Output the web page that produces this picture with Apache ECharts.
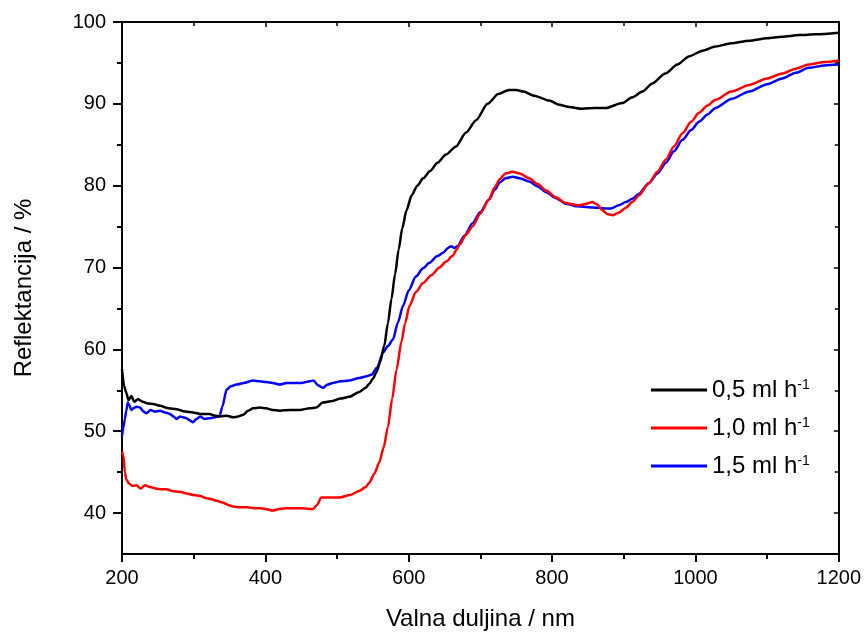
<!DOCTYPE html>
<html>
<head>
<meta charset="utf-8">
<script src="https://cdn.jsdelivr.net/npm/echarts@6/dist/echarts.min.js"></script>
<style>html,body{margin:0;padding:0;background:#fff;}#c{width:864px;height:636px;}</style>
</head>
<body>
<div id="c"></div>
<script>
const seriesNames = ['0,5 ml h', '1,0 ml h', '1,5 ml h'];
const seriesColors = ['#000000', '#ff0000', '#0000ff'];

const wlBlack = [200,203,206,209,213,217,222,229,236,245,253,265,276,288,299,310,322,330,337,346,355,362,369,376,383,392,401,410,420,435,448,462,471,480,494,505,517,531,540,545,550,555,560,566,571,576,581,586,591,597,604,612,620,630,640,652,666,680,694,710,725,740,750,760,775,796,810,824,842,860,875,898,912,926,940,958,975,991,1010,1028,1050,1075,1100,1121,1145,1168,1200];
const valBlack = [57.6,55.5,54.7,53.8,54.3,53.6,53.9,53.6,53.4,53.3,53.1,52.8,52.7,52.4,52.3,52.1,52.1,51.9,51.8,51.9,51.7,51.8,52.0,52.5,52.8,52.9,52.8,52.6,52.5,52.6,52.6,52.8,52.9,53.5,53.7,54.0,54.2,54.8,55.3,55.8,56.4,57.2,58.4,60.5,63.2,66.2,69.2,72.2,74.8,77.0,78.8,80.0,80.9,81.8,82.8,83.8,84.8,86.5,88.0,90.0,91.2,91.7,91.7,91.5,91.0,90.4,89.9,89.6,89.4,89.5,89.5,90.1,90.8,91.5,92.5,93.7,94.8,95.8,96.5,97.0,97.4,97.7,98.0,98.2,98.4,98.5,98.7];

const wlRed = [200,202,204,206,210,215,220,226,232,239,247,255,262,270,281,290,300,309,318,325,332,340,348,355,365,375,385,392,400,410,420,430,440,450,462,467,472,478,490,504,518,531,540,545,552,559,565,571,577,583,590,595,601,610,620,632,643,652,661,667,671,680,689,700,712,720,727,735,745,755,768,780,792,805,819,830,838,848,856,863,870,878,885,893,903,912,921,935,947,959,970,982,994,1005,1017,1028,1050,1075,1100,1121,1140,1158,1180,1200];
const valRed = [47.5,47.0,45.0,44.1,43.6,43.3,43.4,43.0,43.4,43.2,43.0,42.9,42.9,42.7,42.6,42.4,42.2,42.1,41.8,41.7,41.5,41.3,41.0,40.8,40.7,40.7,40.6,40.6,40.5,40.3,40.5,40.6,40.6,40.6,40.5,40.5,41.0,41.9,41.9,41.9,42.2,42.7,43.2,43.7,44.8,46.2,48.0,50.5,54.0,57.5,61.0,63.2,65.3,67.0,68.1,69.1,70.0,70.7,71.4,72.2,72.8,74.0,75.0,76.6,78.3,79.8,80.8,81.5,81.7,81.5,80.9,80.2,79.4,78.6,77.9,77.7,77.6,77.8,78.0,77.7,77.0,76.5,76.4,76.7,77.3,78.0,78.8,80.3,81.7,83.2,84.8,86.4,87.8,88.9,89.8,90.5,91.5,92.3,93.1,93.7,94.3,94.8,95.1,95.3];

const wlBlue = [200,202,204,206,208,210,213,216,220,225,230,234,240,246,253,260,267,272,276,281,285,290,295,299,304,309,315,323,330,336,340,346,352,360,370,383,392,401,410,420,430,439,450,462,467,474,480,487,494,505,517,531,540,548,556,564,571,578,585,592,600,610,620,629,640,648,655,659,664,668,678,689,700,712,720,727,735,745,755,768,780,792,805,819,833,847,865,875,882,893,903,912,921,935,947,959,970,982,994,1005,1017,1028,1050,1075,1100,1121,1140,1158,1180,1200];
const valBlue = [49.4,50.5,51.5,52.5,53.5,53.2,52.6,52.8,53.0,52.9,52.4,52.2,52.6,52.4,52.5,52.3,52.1,51.8,51.5,51.8,51.7,51.6,51.3,51.1,51.5,51.8,51.5,51.6,51.7,51.8,53.0,55.1,55.5,55.7,55.9,56.2,56.1,56.0,55.9,55.7,55.9,55.9,55.9,56.1,56.2,55.6,55.3,55.7,55.9,56.1,56.2,56.5,56.7,56.9,57.8,59.6,60.4,61.2,63.3,65.3,67.2,68.9,69.9,70.6,71.4,71.8,72.4,72.6,72.4,72.6,73.9,75.4,76.8,78.3,79.5,80.4,80.9,81.1,80.9,80.5,79.9,79.2,78.5,77.8,77.5,77.4,77.3,77.2,77.2,77.6,78.0,78.4,79.0,80.3,81.5,82.8,84.2,85.6,86.8,87.8,88.7,89.5,90.6,91.5,92.4,93.1,93.8,94.4,94.7,94.8];

const yMajorTicks = [40, 50, 60, 70, 80, 90, 100];
const yMinorTicks = [45, 55, 65, 75, 85, 95];

function pairs(xs, ys) { return xs.map((x, i) => [x, ys[i]]); }
const allData = [pairs(wlBlack, valBlack), pairs(wlRed, valRed), pairs(wlBlue, valBlue)];

const chart = echarts.init(document.getElementById('c'), null, {renderer: 'canvas'});
const fontFam = 'Liberation Sans, Arial, sans-serif';
const axisLine = {show: true, onZero: false, lineStyle: {color: '#000', width: 2}};

const option = {
  backgroundColor: '#fff',
  animation: false,
  grid: {left: 122, right: 24, top: 22, bottom: 80, containLabel: false},
  legend: {
    orient: 'vertical',
    left: 646,
    top: 373,
    icon: 'rect',
    itemWidth: 56,
    itemHeight: 3,
    itemGap: 14,
    data: seriesNames,
    formatter: n => n + '{sup|-1}',
    textStyle: {
      fontFamily: fontFam, fontSize: 24, color: '#000', lineHeight: 24,
      rich: {sup: {fontFamily: fontFam, fontSize: 14, color: '#000', verticalAlign: 'top', lineHeight: 12}}
    }
  },
  xAxis: [
    {
      type: 'value', min: 200, max: 1200, interval: 200, position: 'bottom',
      axisLine: axisLine,
      axisTick: {show: true, inside: false, length: 8, lineStyle: {width: 2, color: '#000'}},
      minorTick: {show: true, splitNumber: 2, length: 5, lineStyle: {width: 2, color: '#000'}},
      splitLine: {show: false},
      axisLabel: {fontFamily: fontFam, fontSize: 20, color: '#000', margin: 14, formatter: v => String(v)},
      name: 'Valna duljina / nm', nameLocation: 'middle', nameGap: 53,
      nameTextStyle: {fontFamily: fontFam, fontSize: 24, color: '#000'}
    },
    {
      type: 'value', min: 200, max: 1200, interval: 200, position: 'top',
      axisLine: axisLine,
      axisTick: {show: true, inside: true, length: 5, lineStyle: {width: 1.5, color: '#000'}},
      minorTick: {show: true, splitNumber: 2, length: 4, lineStyle: {width: 1.5, color: '#000'}},
      splitLine: {show: false},
      axisLabel: {show: false}
    }
  ],
  yAxis: [
    {
      type: 'value', min: 35, max: 100, position: 'left',
      axisLine: axisLine,
      axisTick: {show: true, inside: false, length: 9, customValues: yMajorTicks, lineStyle: {width: 2, color: '#000'}},
      splitLine: {show: false},
      axisLabel: {fontFamily: fontFam, fontSize: 20, color: '#000', margin: 16, customValues: yMajorTicks},
      name: 'Reflektancija / %', nameLocation: 'middle', nameGap: 86, nameRotate: 90,
      nameTextStyle: {fontFamily: fontFam, fontSize: 24, color: '#000'}
    },
    {
      type: 'value', min: 35, max: 100, position: 'left',
      axisLine: {show: false},
      axisTick: {show: true, inside: false, length: 5, customValues: yMinorTicks, lineStyle: {width: 2, color: '#000'}},
      splitLine: {show: false},
      axisLabel: {show: false}
    },
    {
      type: 'value', min: 35, max: 100, position: 'right',
      axisLine: axisLine,
      axisTick: {show: true, inside: true, length: 5, customValues: yMajorTicks, lineStyle: {width: 1.5, color: '#000'}},
      splitLine: {show: false},
      axisLabel: {show: false}
    },
    {
      type: 'value', min: 35, max: 100, position: 'right',
      axisLine: {show: false},
      axisTick: {show: true, inside: true, length: 4, customValues: yMinorTicks, lineStyle: {width: 1.5, color: '#000'}},
      splitLine: {show: false},
      axisLabel: {show: false}
    }
  ],
  series: seriesNames.map((name, i) => ({
    name: name,
    type: 'line',
    xAxisIndex: 0,
    yAxisIndex: 0,
    data: allData[i],
    showSymbol: false,
    symbol: 'none',
    smooth: 0.25,
    smoothMonotone: 'x',
    color: seriesColors[i],
    lineStyle: {color: seriesColors[i], width: 2.5},
    z: 3 - i + 2
  }))
};
chart.setOption(option);
</script>
</body>
</html>
